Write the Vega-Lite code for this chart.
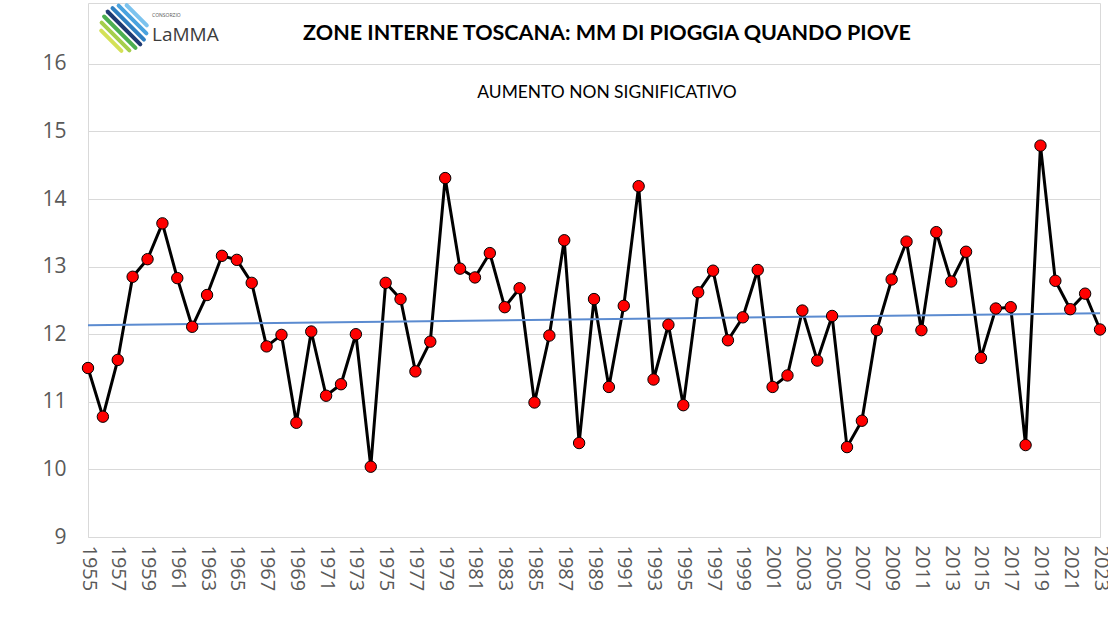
{
  "$schema": "https://vega.github.io/schema/vega-lite/v6.json",
  "autosize": "none",
  "width": 1012,
  "height": 534,
  "padding": {"left": 88, "top": 3, "right": 8, "bottom": 87},
  "background": "white",
  "config": {"view": {"stroke": "#d9d9d9", "strokeWidth": 1}, "font": "Open Sans"},
  "title": {
    "text": "ZONE INTERNE TOSCANA: MM DI PIOGGIA QUANDO PIOVE",
    "subtitle": "AUMENTO NON SIGNIFICATIVO",
    "anchor": "middle",
    "offset": -98,
    "dx": 13,
    "font": "Lato",
    "fontSize": 21.5,
    "fontWeight": "bold",
    "color": "#000000",
    "subtitleFont": "Lato",
    "subtitleFontSize": 17.4,
    "subtitleColor": "#000000",
    "subtitlePadding": 39
  },
  "resolve": {"axis": {"x": "independent", "y": "independent"}},
  "layer": [
    {
      "data": {
        "values": [
          {"year": 1955, "value": 11.50}, {"year": 1956, "value": 10.78}, {"year": 1957, "value": 11.62},
          {"year": 1958, "value": 12.85}, {"year": 1959, "value": 13.11}, {"year": 1960, "value": 13.64},
          {"year": 1961, "value": 12.83}, {"year": 1962, "value": 12.11}, {"year": 1963, "value": 12.58},
          {"year": 1964, "value": 13.16}, {"year": 1965, "value": 13.10}, {"year": 1966, "value": 12.76},
          {"year": 1967, "value": 11.82}, {"year": 1968, "value": 11.99}, {"year": 1969, "value": 10.69},
          {"year": 1970, "value": 12.04}, {"year": 1971, "value": 11.09}, {"year": 1972, "value": 11.26},
          {"year": 1973, "value": 12.00}, {"year": 1974, "value": 10.04}, {"year": 1975, "value": 12.76},
          {"year": 1976, "value": 12.52}, {"year": 1977, "value": 11.45}, {"year": 1978, "value": 11.89},
          {"year": 1979, "value": 14.31}, {"year": 1980, "value": 12.97}, {"year": 1981, "value": 12.84},
          {"year": 1982, "value": 13.20}, {"year": 1983, "value": 12.40}, {"year": 1984, "value": 12.68},
          {"year": 1985, "value": 10.99}, {"year": 1986, "value": 11.98}, {"year": 1987, "value": 13.39},
          {"year": 1988, "value": 10.39}, {"year": 1989, "value": 12.52}, {"year": 1990, "value": 11.22},
          {"year": 1991, "value": 12.42}, {"year": 1992, "value": 14.19}, {"year": 1993, "value": 11.33},
          {"year": 1994, "value": 12.14}, {"year": 1995, "value": 10.95}, {"year": 1996, "value": 12.62},
          {"year": 1997, "value": 12.94}, {"year": 1998, "value": 11.91}, {"year": 1999, "value": 12.25},
          {"year": 2000, "value": 12.95}, {"year": 2001, "value": 11.22}, {"year": 2002, "value": 11.39},
          {"year": 2003, "value": 12.35}, {"year": 2004, "value": 11.61}, {"year": 2005, "value": 12.27},
          {"year": 2006, "value": 10.33}, {"year": 2007, "value": 10.72}, {"year": 2008, "value": 12.06},
          {"year": 2009, "value": 12.81}, {"year": 2010, "value": 13.37}, {"year": 2011, "value": 12.06},
          {"year": 2012, "value": 13.51}, {"year": 2013, "value": 12.78}, {"year": 2014, "value": 13.22},
          {"year": 2015, "value": 11.65}, {"year": 2016, "value": 12.38}, {"year": 2017, "value": 12.40},
          {"year": 2018, "value": 10.36}, {"year": 2019, "value": 14.79}, {"year": 2020, "value": 12.79},
          {"year": 2021, "value": 12.37}, {"year": 2022, "value": 12.60}, {"year": 2023, "value": 12.07}
        ]
      },
      "encoding": {
        "x": {
          "field": "year", "type": "quantitative",
          "scale": {"domain": [1955, 2023], "nice": false, "zero": false},
          "axis": {
            "title": null, "grid": false, "ticks": false, "domain": false,
            "values": [1955,1957,1959,1961,1963,1965,1967,1969,1971,1973,1975,1977,1979,1981,1983,1985,1987,1989,1991,1993,1995,1997,1999,2001,2003,2005,2007,2009,2011,2013,2015,2017,2019,2021,2023],
            "format": "d", "labelAngle": 90, "labelPadding": 8,
            "labelFontSize": 20, "labelColor": "#595959", "labelFont": "Open Sans",
            "labelOverlap": false, "labelFlush": false
          }
        },
        "y": {
          "field": "value", "type": "quantitative",
          "scale": {"domain": [9, 16.9], "nice": false, "zero": false},
          "axis": {
            "title": null, "ticks": false, "domain": false,
            "values": [9, 10, 11, 12, 13, 14, 15, 16], "format": "d",
            "gridColor": "#d9d9d9", "gridWidth": 1,
            "labelPadding": 22, "labelFontSize": 21, "labelColor": "#595959", "labelFont": "Open Sans"
          }
        }
      },
      "layer": [
        {"mark": {"type": "line", "color": "#000000", "strokeWidth": 3}},
        {
          "transform": [{"regression": "value", "on": "year", "extent": [1955, 2023]}],
          "mark": {"type": "line", "color": "#5b8bd0", "strokeWidth": 2}
        },
        {"mark": {"type": "point", "shape": "circle", "filled": true, "fill": "#ff0000", "stroke": "#000000", "strokeWidth": 1, "size": 130, "opacity": 1}}
      ]
    },
    {
      "data": {"values": [{"label": "LaMMA"}]},
      "mark": {"type": "text", "align": "left", "baseline": "middle", "font": "Open Sans", "fontSize": 19, "color": "#3c3c3c"},
      "encoding": {
        "x": {"datum": 1959.3, "type": "quantitative", "axis": null},
        "y": {"datum": 16.43, "type": "quantitative", "axis": null},
        "text": {"field": "label"}
      }
    },
    {
      "data": {"values": [{"label": "CONSORZIO"}]},
      "mark": {"type": "text", "align": "left", "baseline": "middle", "font": "Open Sans", "fontSize": 5, "color": "#555555"},
      "encoding": {
        "x": {"datum": 1959.3, "type": "quantitative", "axis": null},
        "y": {"datum": 16.72, "type": "quantitative", "axis": null},
        "text": {"field": "label"}
      }
    },
    {"data": {"values": [{}]}, "mark": {"type": "rule", "color": "#d4e157", "strokeWidth": 4, "strokeCap": "round"},
     "encoding": {"x": {"datum": 1955.887, "type": "quantitative", "axis": null}, "y": {"datum": 16.491, "type": "quantitative", "axis": null}, "x2": {"datum": 1957.245}, "y2": {"datum": 16.192}}},
    {"data": {"values": [{}]}, "mark": {"type": "rule", "color": "#a5cf4c", "strokeWidth": 4, "strokeCap": "round"},
     "encoding": {"x": {"datum": 1955.914, "type": "quantitative", "axis": null}, "y": {"datum": 16.609, "type": "quantitative", "axis": null}, "x2": {"datum": 1957.782}, "y2": {"datum": 16.198}}},
    {"data": {"values": [{}]}, "mark": {"type": "rule", "color": "#4caf50", "strokeWidth": 4, "strokeCap": "round"},
     "encoding": {"x": {"datum": 1956.082, "type": "quantitative", "axis": null}, "y": {"datum": 16.700, "type": "quantitative", "axis": null}, "x2": {"datum": 1958.192}, "y2": {"datum": 16.235}}},
    {"data": {"values": [{}]}, "mark": {"type": "rule", "color": "#1f3b73", "strokeWidth": 4, "strokeCap": "round"},
     "encoding": {"x": {"datum": 1956.324, "type": "quantitative", "axis": null}, "y": {"datum": 16.771, "type": "quantitative", "axis": null}, "x2": {"datum": 1958.515}, "y2": {"datum": 16.288}}},
    {"data": {"values": [{}]}, "mark": {"type": "rule", "color": "#2f7fc1", "strokeWidth": 4, "strokeCap": "round"},
     "encoding": {"x": {"datum": 1956.647, "type": "quantitative", "axis": null}, "y": {"datum": 16.824, "type": "quantitative", "axis": null}, "x2": {"datum": 1958.757}, "y2": {"datum": 16.359}}},
    {"data": {"values": [{}]}, "mark": {"type": "rule", "color": "#4aa3df", "strokeWidth": 4, "strokeCap": "round"},
     "encoding": {"x": {"datum": 1957.056, "type": "quantitative", "axis": null}, "y": {"datum": 16.861, "type": "quantitative", "axis": null}, "x2": {"datum": 1958.925}, "y2": {"datum": 16.450}}},
    {"data": {"values": [{}]}, "mark": {"type": "rule", "color": "#7cc3ee", "strokeWidth": 4, "strokeCap": "round"},
     "encoding": {"x": {"datum": 1957.594, "type": "quantitative", "axis": null}, "y": {"datum": 16.867, "type": "quantitative", "axis": null}, "x2": {"datum": 1958.952}, "y2": {"datum": 16.568}}}
  ]
}
